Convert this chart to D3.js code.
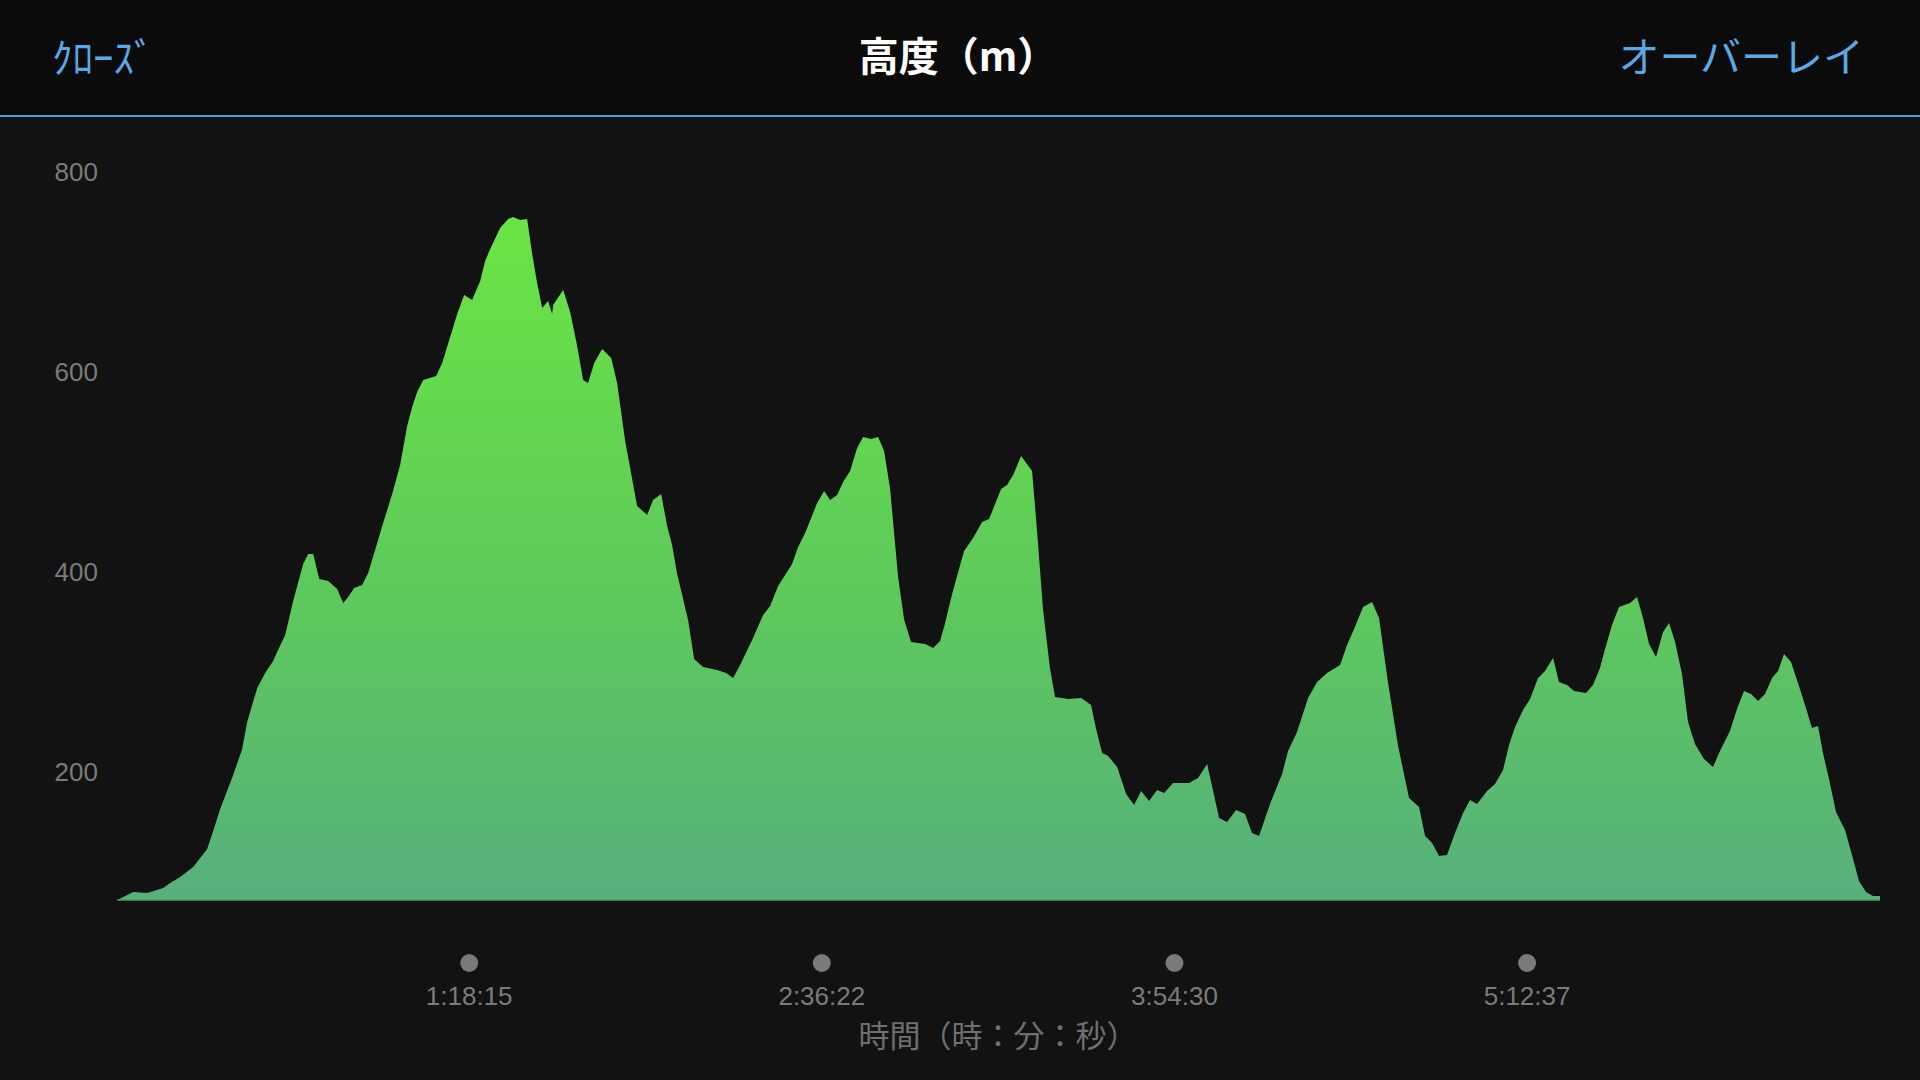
<!DOCTYPE html>
<html>
<head>
<meta charset="utf-8">
<script src="https://cdn.jsdelivr.net/npm/d3@7"></script>
<style>
  body { margin: 0; background: #121212; }
  svg { display: block; }
</style>
</head>
<body>
<div class="elevationViz"></div>
<script>
// elapsed time (seconds) and altitude (m)
var times = [16, 229, 415, 627, 720, 853, 1026, 1212, 1292, 1385, 1558, 1677, 1744, 1877, 1983, 2089, 2142, 2249, 2355, 2488,
  2554, 2621, 2701, 2820, 2940, 3020, 3086, 3166, 3272, 3352, 3472, 3551, 3671, 3777, 3870, 3937, 4003, 4083, 4256, 4336,
  4442, 4535, 4628, 4734, 4841, 4907, 4974, 5106, 5213, 5279, 5372, 5465, 5532, 5598, 5665, 5744, 5798, 5811, 5944, 6037,
  6130, 6209, 6276, 6356, 6462, 6582, 6661, 6768, 6927, 7060, 7140, 7246, 7326, 7392, 7459, 7605, 7685, 7804, 7991, 8110,
  8203, 8296, 8456, 8602, 8696, 8801, 8987, 9067, 9160, 9320, 9413, 9492, 9586, 9665, 9758, 9851, 9931, 10038, 10130, 10210,
  10290, 10396, 10477, 10569, 10755, 10861, 10955, 11021, 11114, 11273, 11393, 11513, 11606, 11765, 11845, 11925, 12031, 12177, 12245, 12323,
  12416, 12483, 12656, 12829, 12961, 13028, 13108, 13188, 13308, 13427, 13533, 13626, 13732, 13839, 13932, 14051, 14264, 14384, 14504, 14663,
  14769, 14889, 15008, 15101, 15194, 15340, 15500, 15580, 15699, 15846, 15965, 16098, 16271, 16364, 16457, 16577, 16696, 16789, 16909, 17042,
  17188, 17321, 17401, 17494, 17587, 17693, 17799, 17906, 17999, 18092, 18225, 18331, 18437, 18517, 18597, 18703, 18796, 18903, 18995, 19102,
  19181, 19288, 19381, 19540, 19633, 19726, 19793, 19886, 19979, 20125, 20218, 20298, 20378, 20471, 20564, 20644, 20724, 20816, 20896, 20989,
  21109, 21228, 21321, 21454, 21547, 21640, 21734, 21827, 21920, 22013, 22093, 22172, 22265, 22358, 22451, 22544, 22624, 22690, 22770, 22863,
  22983, 23076, 23169, 23262, 23355, 23448];

var elevations = [72, 80, 79, 84, 89, 95, 105, 123, 141, 163, 197, 223, 250, 284, 299, 311, 320, 337, 371, 408,
  418, 418, 393, 391, 383, 369, 375, 384, 387, 399, 429, 449, 478, 507, 546, 565, 580, 592, 596, 609,
  635, 658, 677, 672, 691, 711, 723, 744, 753, 755, 752, 753, 718, 689, 664, 671, 658, 667, 682, 660,
  626, 592, 589, 609, 623, 614, 589, 531, 466, 457, 472, 478, 446, 427, 398, 352, 313, 305, 302, 299,
  294, 307, 332, 357, 366, 386, 408, 425, 439, 469, 481, 472, 477, 490, 501, 524, 535, 533, 535, 521,
  483, 395, 352, 330, 328, 324, 331, 349, 378, 421, 434, 450, 453, 483, 487, 497, 516, 501, 439, 362,
  303, 275, 273, 274, 267, 243, 219, 216, 205, 178, 167, 181, 171, 182, 179, 189, 189, 194, 208, 154,
  150, 162, 158, 139, 136, 168, 198, 221, 240, 274, 290, 299, 307, 327, 343, 365, 370, 354, 289, 226,
  174, 165, 136, 129, 116, 117, 139, 159, 172, 168, 181, 188, 202, 227, 245, 262, 273, 294, 301, 314,
  290, 287, 281, 279, 287, 304, 323, 347, 365, 369, 375, 354, 328, 315, 340, 349, 330, 298, 250, 228,
  213, 205, 221, 241, 263, 281, 278, 271, 278, 294, 301, 318, 310, 289, 267, 244, 246, 219, 193, 160,
  142, 117, 91, 80, 76, 76];

var yTicks = [200, 400, 600, 800];
var xTickSeconds = [4695, 9382, 14070, 18757];
var xTickLabels = ["1:18:15", "2:36:22", "3:54:30", "5:12:37"];
var baseElevation = 72;

var titleText = "高度（m）",
    closeText = "ｸﾛｰｽﾞ",
    overlayText = "オーバーレイ",
    xTitleText = "時間（時：分：秒）";

var width = 1920,
    height = 1080,
    headerHeight = 115;

var numFont = "'Liberation Sans', Arial, sans-serif",
    jpFont = "'Noto Sans CJK JP', 'Noto Sans', sans-serif";

var points = times.map(function(t, i){ return {t: t, e: elevations[i]}; });

var x = d3.scaleLinear()
    .domain([0, 23448])
    .range([116, 1880]);

var y = d3.scaleLinear()
    .domain([0, 800])
    .range([972, 172]);

var svg = d3.select(".elevationViz").append("svg")
    .attr("width", width)
    .attr("height", height);

svg.append("rect")
    .attr("width", width)
    .attr("height", height)
    .style("fill", "#121212");

// header bar
svg.append("rect")
    .attr("width", width)
    .attr("height", headerHeight)
    .style("fill", "#0b0b0b");

svg.append("rect")
    .attr("y", headerHeight)
    .attr("width", width)
    .attr("height", 2)
    .style("fill", "#4b9fe1");

svg.append("text")
    .attr("x", 52)
    .attr("y", 73)
    .style("font-family", jpFont)
    .style("font-size", "41px")
    .style("fill", "#5aa9e6")
    .text(closeText);

svg.append("text")
    .attr("x", width / 2 - 2)
    .attr("y", 71)
    .style("text-anchor", "middle")
    .style("font-family", jpFont)
    .style("font-weight", "bold")
    .style("font-size", "40px")
    .style("fill", "#ffffff")
    .text(titleText);

svg.append("text")
    .attr("x", 1864)
    .attr("y", 72)
    .style("text-anchor", "end")
    .style("font-family", jpFont)
    .style("font-size", "41px")
    .style("fill", "#5aa9e6")
    .text(overlayText);

// gradient for the area fill
var grad = svg.append("defs").append("linearGradient")
    .attr("id", "elevFill")
    .attr("gradientUnits", "userSpaceOnUse")
    .attr("x1", 0).attr("x2", 0)
    .attr("y1", y(d3.max(elevations)))
    .attr("y2", y(baseElevation));

grad.append("stop").attr("offset", "0%").attr("stop-color", "#6ae544");
grad.append("stop").attr("offset", "55%").attr("stop-color", "#5ec95b");
grad.append("stop").attr("offset", "100%").attr("stop-color", "#56b07c");

var area = d3.area()
    .x(function(d){ return x(d.t); })
    .y0(y(baseElevation))
    .y1(function(d){ return y(d.e); });

svg.append("path")
    .datum(points)
    .attr("d", area)
    .style("fill", "url(#elevFill)");

svg.append("line")
    .attr("x1", x(times[0]))
    .attr("x2", x(times[times.length - 1]))
    .attr("y1", y(baseElevation))
    .attr("y2", y(baseElevation))
    .style("stroke", "#4c9a62")
    .style("stroke-width", 1.5);

// y axis labels, no grid
svg.selectAll(".ytick")
    .data(yTicks)
    .enter()
    .append("text")
      .attr("class", "ytick")
      .attr("x", 98)
      .attr("y", function(d){ return y(d); })
      .attr("dy", "0.36em")
      .style("text-anchor", "end")
      .style("font-family", numFont)
      .style("font-size", "26px")
      .style("fill", "#7b7b7b")
      .text(function(d){ return d; });

// x ticks: dot + time label
var xt = svg.selectAll(".xtick")
    .data(xTickSeconds)
    .enter()
    .append("g")
      .attr("class", "xtick")
      .attr("transform", function(d){ return "translate(" + x(d) + ",0)"; });

xt.append("circle")
    .attr("cy", 963)
    .attr("r", 9)
    .style("fill", "#7a7a7a");

xt.append("text")
    .attr("y", 1005)
    .style("text-anchor", "middle")
    .style("font-family", numFont)
    .style("font-size", "26px")
    .style("fill", "#7b7b7b")
    .text(function(d, i){ return xTickLabels[i]; });

svg.append("text")
    .attr("x", (x.range()[0] + x.range()[1]) / 2)
    .attr("y", 1047)
    .style("text-anchor", "middle")
    .style("font-family", jpFont)
    .style("font-size", "31px")
    .style("fill", "#6f6f6f")
    .text(xTitleText);
</script>
</body>
</html>
